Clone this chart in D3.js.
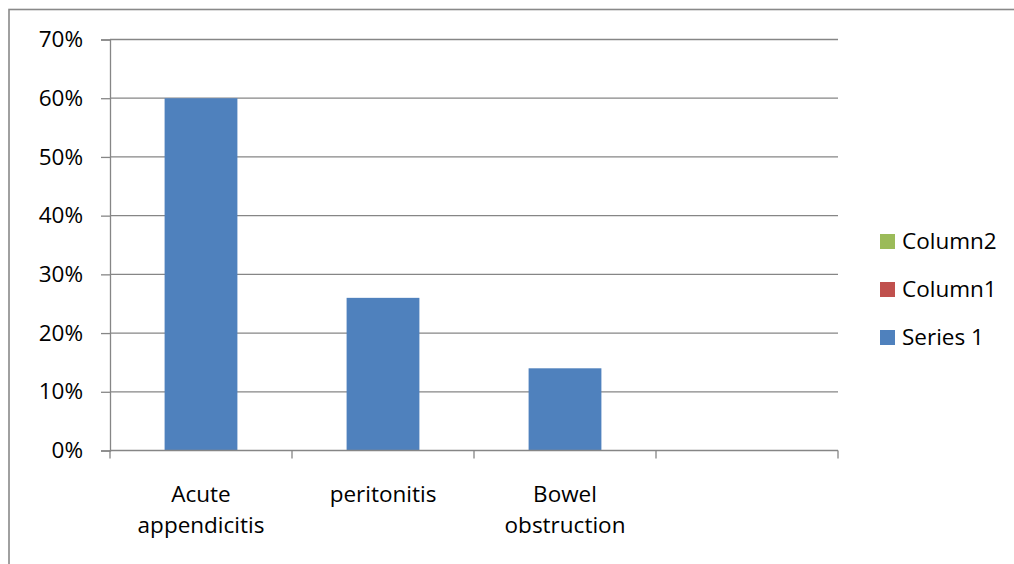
<!DOCTYPE html>
<html>
<head>
<meta charset="utf-8">
<script src="https://cdn.jsdelivr.net/npm/d3@7"></script>
<style>
  body { margin: 0; background: #fff; }
  text { font-family: "Open Sans", sans-serif; fill: #000; }
</style>
</head>
<body>
<div id="chart"></div>
<script>
// data
const categories = [["Acute", "appendicitis"], ["peritonitis"], ["Bowel", "obstruction"], [""]];
const series1 = [0.60, 0.26, 0.14, null];
const yTicks = [0, 0.1, 0.2, 0.3, 0.4, 0.5, 0.6, 0.7];
const legendNames = ["Column2", "Column1", "Series 1"];
const legendColors = ["#9bbb59", "#c0504d", "#4f81bd"];

const width = 1014, height = 564;
const margin = { top: 39.5, right: 176, bottom: 113.5, left: 110 };
const gridColor = "#868686";

const svg = d3.select("#chart").append("svg")
  .attr("width", width)
  .attr("height", height);

// outer chart frame (right/bottom run off the picture)
svg.append("rect")
  .attr("x", 9).attr("y", 9.5)
  .attr("width", width + 20).attr("height", height + 20)
  .attr("fill", "none")
  .attr("stroke", "#898989")
  .attr("stroke-width", 1.6);

const x = d3.scaleBand()
  .domain(d3.range(categories.length))
  .range([margin.left, width - margin.right])
  .paddingInner(0.6)
  .paddingOuter(0.3);

const y = d3.scaleLinear()
  .domain([0, 0.7])
  .range([height - margin.bottom, margin.top]);

// gridlines
svg.append("g")
  .selectAll("line")
  .data(yTicks.filter(d => d > 0))
  .enter().append("line")
  .attr("x1", margin.left).attr("x2", width - margin.right)
  .attr("y1", d => y(d)).attr("y2", d => y(d))
  .attr("stroke", gridColor)
  .attr("stroke-width", 1.3);

// bars
svg.append("g")
  .selectAll("rect")
  .data(series1.map((v, i) => ({ v, i })).filter(d => d.v != null))
  .enter().append("rect")
  .attr("x", d => x(d.i))
  .attr("y", d => y(d.v))
  .attr("width", x.bandwidth())
  .attr("height", d => y(0) - y(d.v))
  .attr("fill", "#4f81bd");

// y axis
const yAxis = d3.axisLeft(y)
  .tickValues(yTicks)
  .tickFormat(d3.format(".0%"))
  .tickSize(9)
  .tickPadding(18);

const gy = svg.append("g")
  .attr("transform", `translate(${margin.left},0)`)
  .call(yAxis);
gy.selectAll("path, line").attr("stroke", gridColor).attr("stroke-width", 1.3);
gy.selectAll("text").style("font-size", "22.5px").attr("fill", "#000");

// x axis: ticks at category boundaries
const step = x.step();
const boundaries = d3.range(categories.length + 1).map(i => margin.left + i * step);
const gx = svg.append("g");
gx.append("line")
  .attr("x1", margin.left).attr("x2", width - margin.right)
  .attr("y1", y(0)).attr("y2", y(0))
  .attr("stroke", gridColor).attr("stroke-width", 1.3);
gx.selectAll("line.tick")
  .data(boundaries)
  .enter().append("line")
  .attr("class", "tick")
  .attr("x1", d => d).attr("x2", d => d)
  .attr("y1", y(0)).attr("y2", y(0) + 8)
  .attr("stroke", gridColor).attr("stroke-width", 1.3);

// category labels
const labels = svg.append("g")
  .selectAll("text")
  .data(categories)
  .enter().append("text")
  .attr("text-anchor", "middle")
  .style("font-size", "22.5px")
  .attr("transform", (d, i) => `translate(${x(i) + x.bandwidth() / 2},${y(0) + 51})`);
labels.selectAll("tspan")
  .data(d => d)
  .enter().append("tspan")
  .attr("x", 0)
  .attr("dy", (d, i) => i === 0 ? 0 : 31.5)
  .text(d => d);

// legend
const legend = svg.append("g")
  .attr("transform", "translate(880,234)");
const items = legend.selectAll("g")
  .data(legendNames)
  .enter().append("g")
  .attr("transform", (d, i) => `translate(0,${i * 48})`);
items.append("rect")
  .attr("width", 15).attr("height", 15)
  .attr("fill", (d, i) => legendColors[i]);
items.append("text")
  .attr("x", 22).attr("y", 15)
  .style("font-size", "22.5px")
  .text(d => d);
</script>
</body>
</html>
